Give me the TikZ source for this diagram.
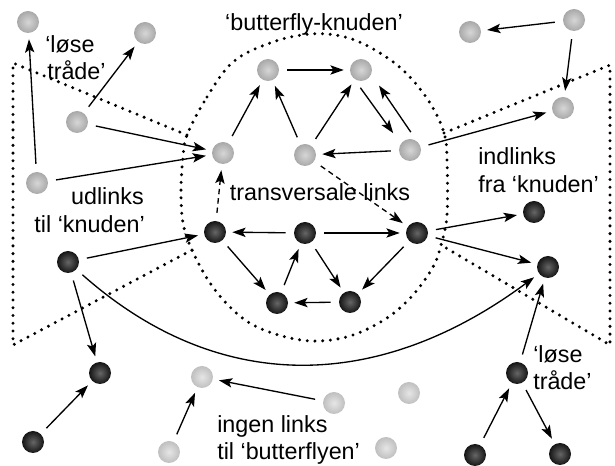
\documentclass[tikz,border=0pt]{standalone}
\usepackage{fontspec}
\setmainfont{Liberation Sans}
\usetikzlibrary{arrows.meta}
\begin{document}
\begin{tikzpicture}[x=0.75pt,y=-0.75pt,
  ball/.style={circle, minimum size=16.5pt, inner sep=0pt, shading=radial},
  lightball/.style={ball, inner color=gray!32, outer color=gray!68},
  paleball/.style={ball, inner color=gray!20, outer color=gray!50},
  darkball/.style={ball, inner color=black!60, outer color=black!92},
  link/.style={-{Stealth[length=10pt,width=7pt,inset=2.2pt]}, line width=1pt,
    shorten >=4.5pt, shorten <=6pt},
  translink/.style={link, dash pattern=on 4pt off 3pt},
  region/.style={line width=2.5pt, line cap=round, dash pattern=on 0pt off 5.8pt},
  lbl/.style={inner sep=0pt, font=\fontsize{17.5}{20.5}\selectfont}
]
\useasboundingbox (0,0) rectangle (615,466);

% boundary of the core and of the in/out regions
\draw[region] plot[smooth cycle, tension=0.6] coordinates {
  (187,135) (207,97) (233,62) (270,43) (310,34) (345,37) (375,50) (405,72)
  (430,103) (444,133) (447,160) (447,215) (441,245) (433,267) (413,295)
  (387,318) (353,335) (320,341) (290,338) (257,327) (233,310) (210,283)
  (192,250) (183,223) (181,190) (183,157)};
\draw[region] (187,135) -- (13,63) -- (13,345) -- (192,250);
\draw[region] (444,133) -- (610,65) -- (610,345) -- (441,245);

% light nodes
\node[lightball] (a1) at (28,22) {};
\node[lightball] (a2) at (145,33) {};
\node[lightball] (a3) at (77,122) {};
\node[lightball] (a4) at (37,183) {};
\node[lightball] (b1) at (223,153) {};
\node[lightball] (b2) at (268,70) {};
\node[lightball] (b3) at (361,70) {};
\node[lightball] (b4) at (410,150) {};
\node[lightball] (b5) at (305,155) {};
\node[lightball] (c1) at (470,32) {};
\node[lightball] (c2) at (574,20) {};
\node[lightball] (c3) at (563,108) {};

% isolated nodes
\node[paleball] (e1) at (202,377) {};
\node[paleball] (e2) at (169,452) {};
\node[paleball] (e3) at (334,403) {};
\node[paleball] (e4) at (409,393) {};
\node[paleball] (e5) at (386,448) {};

% dark nodes
\node[darkball] (d1) at (215,232) {};
\node[darkball] (d2) at (305,233) {};
\node[darkball] (d3) at (417,233) {};
\node[darkball] (d4) at (277,303) {};
\node[darkball] (d5) at (350,302) {};
\node[darkball] (d6) at (534,212) {};
\node[darkball] (d7) at (548,267) {};
\node[darkball] (d8) at (68,262) {};
\node[darkball] (d9) at (100,373) {};
\node[darkball] (d10) at (33,442) {};
\node[darkball] (d11) at (517,373) {};
\node[darkball] (d12) at (475,455) {};
\node[darkball] (d13) at (560,454) {};

% links
\draw[link] (a4) -- (a1);
\draw[link] (a3) -- (a2);
\draw[link] (a3) -- (b1);
\draw[link] (a4) -- (b1);
\draw[translink] (d1) -- (b1);
\draw[link] (b1) -- (b2);
\draw[link] (b5) -- (b2);
\draw[link] (b2) -- (b3);
\draw[link] (b5) -- (b3);
\draw[link] ([xshift=-4pt]b3.south) -- ([xshift=-4pt,yshift=3pt]b4.north west);
\draw[link] ([xshift=4pt]b4.north) -- ([xshift=5pt,yshift=-2pt]b3.south east);
\draw[link] (b4) -- (b5);
\draw[link] (b4) -- (c3);
\draw[translink] (b5) -- (d3);
\draw[link] (c2) -- (c1);
\draw[link] (c2) -- (c3);
\draw[link] (d2) -- (d1);
\draw[link] (d1) -- (d4);
\draw[link] (d2) -- (d3);
\draw[link] (d4) -- (d2);
\draw[link] (d5) -- (d4);
\draw[link] (d3) -- (d5);
\draw[link] (d2) -- (d5);
\draw[link] (d3) -- (d6);
\draw[link] (d3) -- (d7);
\draw[link] (d8) -- (d1);
\draw[link] (d8) -- (d9);
\draw[link] (d8) .. controls (218,395) and (378,393) .. (d7);
\draw[link] (d10) -- (d9);
\draw[link] (e2) -- (e1);
\draw[link] (e3) -- (e1);
\draw[link] (d11) -- (d7);
\draw[link] (d12) -- (d11);
\draw[link] (d11) -- (d13);

% labels
\node[lbl, anchor=base] (tcore) at (314,31) {‘butterfly-knuden’};
\node[lbl, anchor=base] (ttrans) at (320,201) {transversale links};
\node[lbl, anchor=base west] (tloose1a) at (45,53) {‘løse};
\node[lbl, anchor=base west] (tloose1b) at (47,80) {tråde’};
\node[lbl, anchor=base east] (tout1) at (144,205) {udlinks};
\node[lbl, anchor=base east] (tout2) at (145,233) {til ‘knuden’};
\node[lbl, anchor=base west] (tin1) at (478,165) {indlinks};
\node[lbl, anchor=base west] (tin2) at (478,193) {fra ‘knuden’};
\node[lbl, anchor=base west] (tloose2a) at (533,363) {‘løse};
\node[lbl, anchor=base west] (tloose2b) at (533,390) {tråde’};
\node[lbl, anchor=base west] (tnone1) at (217,433) {ingen links};
\node[lbl, anchor=base west] (tnone2) at (217,460) {til ‘butterflyen’};
\end{tikzpicture}
\end{document}
